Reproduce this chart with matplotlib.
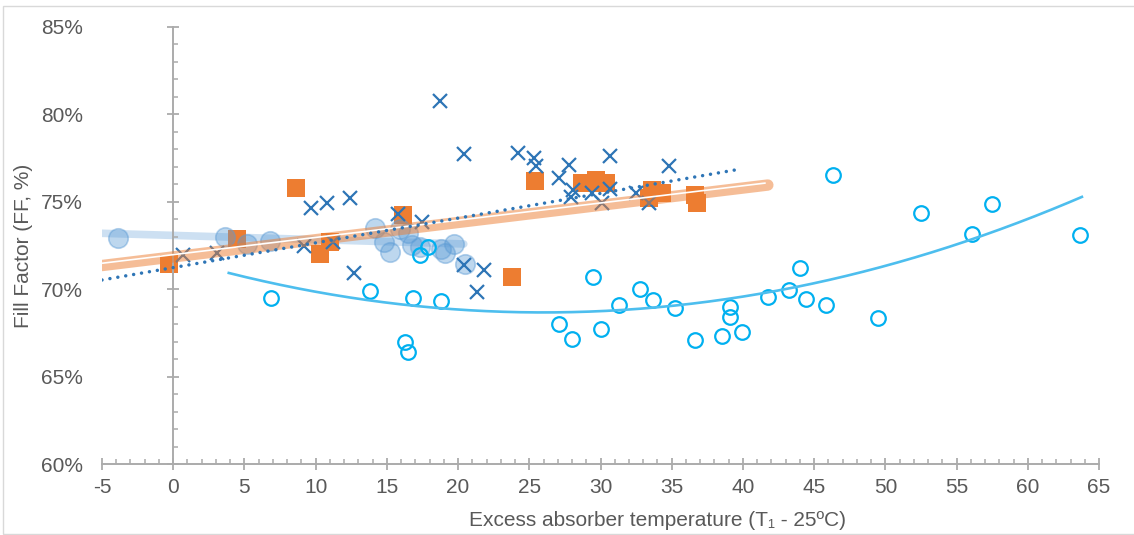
import numpy as np
import matplotlib
matplotlib.use("Agg")
import matplotlib.pyplot as plt
from matplotlib.ticker import MultipleLocator, FuncFormatter
from matplotlib.patches import Rectangle

plt.rcParams['font.family'] = ['Liberation Sans', 'DejaVu Sans']

# --- data: excess absorber temperature (°C) vs fill factor (%) ---
pale_x = [-3.9, 3.65, 5.2, 6.8, 14.2, 14.8, 15.2, 15.9, 16.5, 16.8, 17.3, 18.8, 19.1, 19.7, 20.5]
pale_y = [72.95, 73.0, 72.57, 72.76, 73.5, 72.7, 72.15, 73.45, 73.2, 72.55, 72.4, 72.3, 72.05, 72.57, 71.45]

square_x = [-0.3, 4.5, 8.6, 10.3, 11.0, 16.1, 23.8, 25.4, 28.7, 29.1, 29.7, 30.4, 33.4, 33.6, 34.3, 36.6, 36.8]
square_y = [71.45, 72.9, 75.8, 72.0, 72.7, 74.25, 70.7, 76.2, 76.1, 76.05, 76.25, 76.05, 75.2, 75.65, 75.5, 75.4, 74.95]

cross_x = [0.7, 3.1, 9.2, 9.7, 10.8, 11.2, 12.4, 12.7, 15.8, 17.5, 18.7, 20.4, 20.4, 21.3, 21.8,
           24.2, 25.3, 25.5, 27.1, 27.8, 27.9, 28.1, 29.4, 30.1, 30.7, 30.7, 32.5, 33.4, 34.8]
cross_y = [71.96, 72.06, 72.5, 74.63, 74.95, 72.72, 75.2, 70.95, 74.3, 73.86, 80.76, 77.73, 71.39, 69.83, 71.1,
           77.8, 77.49, 77.05, 76.38, 77.1, 75.29, 75.67, 75.49, 74.91, 75.71, 77.62, 75.52, 74.95, 77.05]

ring_x = [6.9, 13.8, 16.3, 16.5, 16.85, 17.35, 17.9, 18.8, 27.1, 28.0, 29.5, 30.0, 31.3, 32.8, 33.7,
          35.2, 36.6, 38.5, 39.1, 39.1, 39.9, 41.75, 43.2, 44.0, 44.4, 45.8, 46.3, 49.45, 52.5, 56.1, 57.5, 63.7]
ring_y = [69.49, 69.9, 66.97, 66.44, 69.49, 71.96, 72.4, 69.35, 68.0, 67.14, 70.72, 67.71, 69.1, 70.02, 69.37,
          68.95, 67.11, 67.33, 69.0, 68.4, 67.54, 69.58, 69.96, 71.23, 69.43, 69.1, 76.54, 68.34, 74.34, 73.14, 74.87, 73.09]

# trend-line coefficients (highest power first) and spans
pale_fit, pale_span = [-0.024, 73.08], (-5, 20.4)
square_fit, square_span = [0.0984, 71.85], (-5, 41.75)
cross_fit, cross_span = [0.1414, 71.24], (-5, 39.5)
ring_fit, ring_span = [0.00462, -0.2402, 71.80], (3.9, 63.8)

x_ticks = list(range(-5, 70, 5))
y_ticks = list(range(60, 90, 5))

# --- figure ---
W, H = 1134, 535
fig = plt.figure(figsize=(W / 100, H / 100), dpi=100)
ax = fig.add_axes([102 / W, 70.7 / H, (1099 - 102) / W, (464.3 - 26.8) / H])
ax.set_xlim(-5, 65)
ax.set_ylim(60, 85)

def trend(coef, span, n=200):
    xs = np.linspace(span[0], span[1], n)
    return xs, np.polyval(coef, xs)

blue_pale = '#5B9BD5'
orange = '#ED7D31'
navy = '#2E75B6'
cyan = '#00B0F0'

# pale blue series and its broad trend band
xs, ys = trend(pale_fit, pale_span)
ax.plot(xs, ys, color=blue_pale, alpha=0.3, lw=5.5, solid_capstyle='round', zorder=1)

# orange squares
ax.plot(square_x, square_y, ls='none', marker='s', ms=13.5, mfc=orange, mec=orange, mew=0, zorder=2)

ax.plot(pale_x, pale_y, ls='none', marker='o', ms=14,
        mfc=(0.357, 0.608, 0.835, 0.4), mec=(0.357, 0.608, 0.835, 0.45), mew=1.2, zorder=3)

# crosses
ax.plot(cross_x, cross_y, ls='none', marker='x', ms=9.5, mew=1.6, color=navy, zorder=4)

# orange double-stroke trend
xs, ys = trend(square_fit, square_span)
ax.plot(xs, ys, color=orange, alpha=0.5, lw=8.2, solid_capstyle='round', zorder=5)
xs2, ys2 = trend(square_fit, (square_span[0], square_span[1] - 0.15))
ax.plot(xs2, ys2 + 0.13, color='white', lw=1.2, solid_capstyle='butt', zorder=5.1)

# dotted trend for crosses
xs, ys = trend(cross_fit, cross_span)
ax.plot(xs, ys, color=navy, lw=2.5, ls=(0, (0.01, 2.3)), dash_capstyle='round', zorder=6)

# open cyan rings and polynomial trend
ax.plot(ring_x, ring_y, ls='none', marker='o', ms=10.5, mfc='none', mec=cyan, mew=1.6, zorder=7)
xs, ys = trend(ring_fit, ring_span)
ax.plot(xs, ys, color='#4DBEEE', lw=1.9, zorder=8)

# --- axes styling ---
axis_grey = '#ABABAB'
text_grey = '#595959'
for s in ('top', 'right'):
    ax.spines[s].set_visible(False)
ax.spines['left'].set_position(('data', 0))
ax.spines['left'].set_color(axis_grey)
ax.spines['bottom'].set_color(axis_grey)
ax.spines['left'].set_linewidth(1.4)
ax.spines['bottom'].set_linewidth(1.4)

ax.set_xticks(x_ticks)
ax.set_yticks(y_ticks)
ax.xaxis.set_minor_locator(MultipleLocator(1))
ax.yaxis.set_minor_locator(MultipleLocator(1))
ax.yaxis.set_major_formatter(FuncFormatter(lambda v, p: f'{v:.0f}%'))
ax.xaxis.set_major_formatter(FuncFormatter(lambda v, p: f'{v:.0f}'))

ax.tick_params(axis='both', which='major', direction='inout', length=8.6, width=1.3,
               color=axis_grey, labelcolor=text_grey, labelsize=15)
ax.tick_params(axis='both', which='minor', direction='in', length=3.3, width=1.1, color=axis_grey)
ax.tick_params(axis='y', which='major', pad=60.8)
ax.tick_params(axis='x', which='major', pad=5.5)

fig.text(24 / W, 1 - 246 / H, 'Fill Factor (FF, %)', rotation=90, ha='center', va='center',
         color=text_grey, fontsize=15)
fig.text(657 / W, 1 - 520 / H, 'Excess absorber temperature (T₁ - 25ºC)', ha='center', va='center',
         color=text_grey, fontsize=15)

# outer chart frame
fig.patches.append(Rectangle((3 / W, 1 / H), 1.2, 1 - 7 / H, transform=fig.transFigure,
                             fill=False, edgecolor='#D9D9D9', lw=1.0))

fig.savefig('out.png', dpi=100)
